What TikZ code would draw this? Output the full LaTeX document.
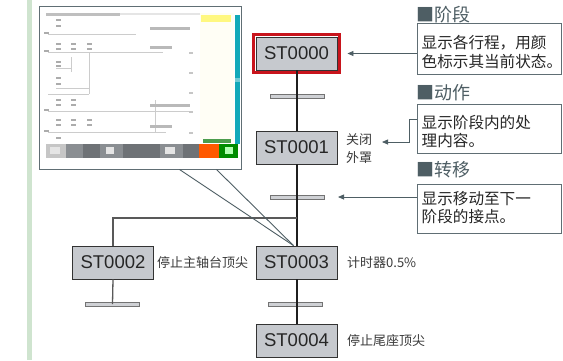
\documentclass[tikz,border=0pt]{standalone}
\usepackage{fontspec}
\setmainfont{Liberation Sans}
\newfontfamily\cjk{Noto Sans CJK SC}
\usetikzlibrary{arrows.meta,calc}
\definecolor{boxfill}{HTML}{C6C9CE}
\definecolor{slate}{HTML}{4E5E64}
\definecolor{redframe}{HTML}{C8141C}
\definecolor{greenbar}{HTML}{CFE4CF}
\definecolor{lbl}{HTML}{3A3A3A}
\definecolor{cyanstrip}{HTML}{12A9B9}
\definecolor{toolgray}{HTML}{8A8E92}
\definecolor{tooldark}{HTML}{6E7276}
\begin{document}
\begin{tikzpicture}[x=1pt,y=-1pt,
  stbox/.style={draw=black!80, fill=boxfill, line width=0.9pt, minimum width=81pt, minimum height=33pt, inner sep=0pt, font=\fontsize{18.5}{20}\selectfont, text=black!85},
  trbar/.style={draw=black!55, fill=boxfill!85, line width=0.6pt, minimum width=54pt, minimum height=4pt, inner sep=0pt},
  steplbl/.style={anchor=west, align=left, inner sep=3pt, text=lbl, font=\cjk\fontsize{13}{18}\selectfont},
  hdr/.style={anchor=west, inner sep=0pt, text=slate, font=\cjk\fontsize{18}{20}\selectfont},
  infobox/.style={draw=slate!90, fill=white, line width=0.8pt, anchor=north west, minimum width=144pt, inner sep=0pt},
  infotext/.style={anchor=west, text width=138pt, inner xsep=4.5pt, inner ysep=0pt, align=left, text=black!85, font=\cjk\fontsize{15.6}{18.5}\selectfont},
  arr/.style={draw=slate, line width=0.8pt, -{Triangle[length=6pt,width=5pt]}},
  mainline/.style={draw=black!88, line width=2pt},
  branch/.style={draw=black!65, line width=1.3pt},
  callout/.style={draw=slate, line width=0.9pt},
  ladder/.style={draw=gray!40, line width=0.6pt},
  blob/.style={fill=gray!65}
]
\useasboundingbox (0,0) rectangle (563,360);
\fill[white] (0,0) rectangle (563,360);
% green side bar
\fill[greenbar] (27,0) rectangle (31.5,360);

% screenshot frame
\node[draw=slate!90, fill=white, line width=1pt, minimum width=202pt, minimum height=163pt, inner sep=0pt] (scr) at (140,87.5) {};
% screen content
\fill[gray!50] (46,13) rectangle (120,15.5);
\fill[gray!20] (120,13) rectangle (200,14.5);
\fill[yellow!4] (200,13) rectangle (234,140);
\fill[yellow!50!white] (201,15) rectangle (231,22);
\fill[cyanstrip] (235,15) rectangle (240,78);
\fill[cyanstrip!60] (235,78) rectangle (240,82);
\fill[cyanstrip] (235,82) rectangle (240,144);
\fill[green!45!black!70] (203,139) rectangle (231,143);
% ladder lines
\draw[ladder] (48,34) -- (136,34);
\draw[ladder] (48,52) -- (163,52);
\draw[ladder] (48,94) -- (89,94);
\draw[ladder] (48,111) -- (189,111);
\draw[ladder] (48,132) -- (166,132);
\draw[ladder] (89,52) -- (89,94);
\draw[ladder] (71,57) -- (71,72);
\draw[ladder] (56,68) -- (71,68);
\draw[ladder] (56,88) -- (89,88);
\draw[ladder] (155,100) -- (155,132);
% blobs
\foreach \p in {(58,20),(58,26),(46,33),(58,44),(73,44),(89,44),(58,49),(73,49),(89,49),(46,51),(58,62),(58,66),(58,78),(58,84),(58,100),(73,100),(58,105),(73,105),(46,110),(58,120),(73,120),(89,120),(58,125),(73,125),(89,125),(46,131),(58,138)}
  \fill[blob] \p ++(-2.5,-1.3) rectangle ++(5,2.6);
\fill[gray!55] (150,27) rectangle (190,30);
\fill[gray!55] (150,46) rectangle (172,49);
\fill[gray!55] (150,104) rectangle (190,107);
\fill[gray!55] (150,125) rectangle (172,128);
\foreach \yy in {52,72,92,111,132} \fill[gray!45] (189,\yy) rectangle (193,\yy+1.5);
% toolbar
\fill[gray!45] (46,144) rectangle (66,158);
\fill[toolgray] (66,144) rectangle (83,158);
\fill[tooldark] (83,144) rectangle (100,158);
\fill[toolgray] (100,144) rectangle (123,158);
\fill[tooldark] (123,144) rectangle (160,158);
\fill[toolgray] (160,144) rectangle (183,158);
\fill[tooldark] (183,144) rectangle (199,158);
\fill[orange!70!red] (199,144) rectangle (219,158);
\fill[green!55!black] (219,144) rectangle (238,158);
\fill[white!80!gray] (50,147) rectangle (60,154);
\fill[white!80!gray] (106,147) rectangle (114,154);
\fill[white!80!gray] (165,147) rectangle (175,154);
\fill[white!70!green] (225,147) rectangle (233,154);

% step boxes
\node[stbox] (s0) at (296.5,53.5) {ST0000};
\draw[redframe, line width=3.6pt] ([shift={(-2.2,-2.2)}]s0.north west) rectangle ([shift={(2.2,2.2)}]s0.south east);
\node[stbox] (s1) at (296.5,147.5) {ST0001};
\node[stbox] (s3) at (296.5,262.5) {ST0003};
\node[stbox] (s4) at (296.5,340.5) {ST0004};
\node[stbox] (s2) at (113,262.5) {ST0002};

% transition bars
\node[trbar] (b1) at (297,96) {};
\node[trbar] (b2) at (297,197) {};
\node[trbar] (b3) at (295,304) {};
\node[trbar] (b4) at (112.5,304) {};

% main line
\draw[mainline] (s0.south) -- (s1.north);
\draw[mainline] (s1.south) -- (s3.north);
\draw[mainline] (s3.south) -- (s4.north);

% branch
\coordinate (j) at (296.5,218);
\draw[branch] (j) -| (s2.north);
\draw[branch] (s2.south) -- (b4.center);

% callout from screenshot
\coordinate (c1) at ($(scr.south west)+(141,0)$);
\coordinate (c2) at ($(scr.south west)+(178,0)$);
\coordinate (ct) at ($(s3.north)+(-3,0)$);
\draw[callout] (c1) -- (ct);
\draw[callout] (c2) -- (ct);

% step labels
\node[steplbl] (l1) at (343,149) {关闭\\外罩};
\node[steplbl] (l2) at (154,262.5) {停止主轴台顶尖};
\node[steplbl] (l3) at (344,262.5) {计时器0.5\%};
\node[steplbl] (l4) at (344,341) {停止尾座顶尖};

% headers
\node[hdr] (h1) at (416,15) {■阶段};
\node[hdr] (h2) at (416,93) {■动作};
\node[hdr] (h3) at (416,170) {■转移};

% info boxes
\node[infobox, minimum height=51pt] (i1) at (417,23) {};
\node[infobox, minimum height=49pt] (i2) at (417,104) {};
\node[infobox, minimum height=49pt] (i3) at (417,184) {};
\node[infotext] (i1t) at (417,52) {显示各行程，用颜\\色标示其当前状态。};
\node[infotext] (i2t) at (417,131.5) {显示阶段内的处\\理内容。};
\node[infotext] (i3t) at (417,207.5) {显示移动至下一\\阶段的接点。};

% arrows
\coordinate (t1) at ($(s0.east)+(10,0)$);
\draw[arr] (i1.west |- t1) -- (t1);
\coordinate (e2) at (417,119);
\coordinate (t2) at (382,142);
\draw[arr] (e2) -- (409,119) |- (t2);
\coordinate (t3) at (338,197);
\draw[arr] (i3.west |- t3) -- (t3);
\end{tikzpicture}
\end{document}
